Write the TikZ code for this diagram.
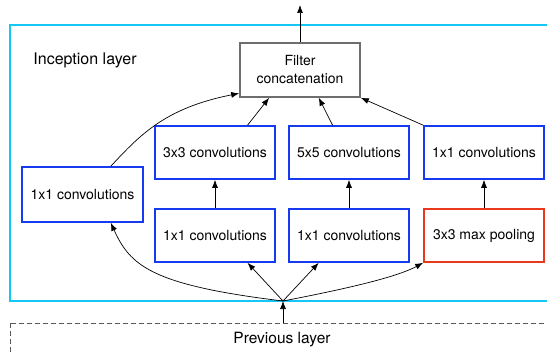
\documentclass[tikz,border=0pt]{standalone}
\usepackage{fontspec}
\setmainfont{TeX Gyre Heros}
\usepackage{xcolor}
\usepackage{tikz}
\usetikzlibrary{arrows.meta}
\definecolor{convblue}{RGB}{22,58,240}
\definecolor{poolred}{RGB}{232,56,30}
\definecolor{layercyan}{RGB}{20,200,245}
\definecolor{concatgray}{RGB}{110,110,110}

\begin{document}
\begin{tikzpicture}[x=1pt,y=-1pt,>={Latex[length=8pt,width=6pt]}]

                \tikzstyle{conv}   = [rectangle, draw=convblue, line width=1.6pt, minimum width=120pt, minimum height=53pt, inner sep=0pt, fill=white]
                \tikzstyle{pool}   = [conv, draw=poolred]
                \tikzstyle{concat} = [rectangle, draw=concatgray, line width=1.6pt, minimum width=120pt, minimum height=54pt, inner sep=0pt, align=center, fill=white]
                \tikzstyle{flow}   = [->, line width=0.7pt]
                \tikzstyle{tag}    = [font=\fontsize{16}{19}\selectfont]

                \clip (0,0) rectangle (547,353);
                \fontsize{14}{18}\selectfont

                % the two layers
                \draw [layercyan, line width=1.6pt] (10,25) rectangle (600,301);
                \draw [black!65, dash pattern=on 5pt off 3pt, line width=0.8pt] (10,323) rectangle (600,400);
                \node [tag](title) at (85,60) {Inception layer};
                \node [tag, font=\fontsize{15.5}{19}\selectfont](prev) at (282,340) {Previous layer};
                \coordinate (prevtop) at (283,323);
                \coordinate (jn) at (283,301);
                \coordinate (out) at (300,5);

                % boxes
                \node [concat](filt) at (300,70) {Filter\\concatenation};
                \node [conv, minimum width=121pt, minimum height=55pt](left) at (82.5,194.5) {1x1 convolutions};

                \node [conv](t1) at (215,152.5) {3x3 convolutions};
                \node [conv](t2) at (349,152.5) {5x5 convolutions};
                \node [conv](t3) at (484,152.5) {1x1 convolutions};

                \node [conv](b1) at (215,235.5) {1x1 convolutions};
                \node [conv](b2) at (349,235.5) {1x1 convolutions};
                \node [pool](mp) at (484,235.5) {3x3 max pooling};

                % connectors
                \draw [flow] (prevtop) -- (jn);
                \draw [flow] (jn) .. controls (150,285) and (130,265) .. (left.-45);
                \draw [flow] (jn) -- (b1.-40);
                \draw [flow] (jn) -- (b2.-138);
                \draw [flow] (jn) .. controls (340,290) and (395,278) .. (mp.south west);

                \draw [flow] (b1) -- (t1);
                \draw [flow] (b2) -- (t2);
                \draw [flow] (mp) -- (t3);

                \draw [flow] (left.45) .. controls (140,135) and (165,108) .. (filt.-159);
                \draw [flow] (t1.40) -- (filt.-138);
                \draw [flow] (t2.121) -- (filt.-56);
                \draw [flow] (t3.north west) -- (filt.south east);
                \draw [flow] (filt) -- (out);
\end{tikzpicture}
\end{document}
